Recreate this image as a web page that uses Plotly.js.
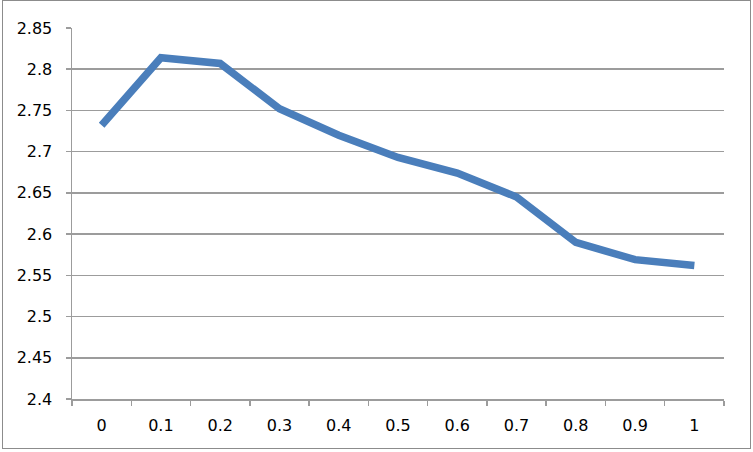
<!DOCTYPE html>
<html>
<head>
<meta charset="utf-8">
<script src="https://cdn.plot.ly/plotly-3.0.1.min.js"></script>
<style>
  html, body { margin: 0; padding: 0; background: #fff; }
  #wrap { position: relative; width: 753px; height: 452px; }
  #chart { position: absolute; left: 0; top: 0; width: 753px; height: 452px; }
  #frame { position: absolute; left: 2px; top: 0px; width: 749px; height: 449px;
           border: 1px solid #8c8c8c; pointer-events: none; box-sizing: border-box; }
</style>
</head>
<body>
<div id="wrap">
  <div id="chart"></div>
  <div id="frame"></div>
</div>
<script>
const categories = ["0", "0.1", "0.2", "0.3", "0.4", "0.5", "0.6", "0.7", "0.8", "0.9", "1"];
const values = [2.732, 2.814, 2.807, 2.752, 2.720, 2.693, 2.674, 2.645, 2.590, 2.569, 2.562];
const yTicks = [2.4, 2.45, 2.5, 2.55, 2.6, 2.65, 2.7, 2.75, 2.8, 2.85];
const yTickText = ["2.4", "2.45", "2.5", "2.55", "2.6", "2.65", "2.7", "2.75", "2.8", "2.85"];

const trace = {
  x: categories,
  y: values,
  type: "scatter",
  mode: "lines",
  line: { color: "#4a7ebb", width: 7.5, shape: "linear" },
  hoverinfo: "skip"
};

const axisColor = "#9c9c9c";
const layout = {
  width: 753,
  height: 452,
  margin: { l: 72, r: 29, t: 27.5, b: 53.3, pad: 0 },
  paper_bgcolor: "rgba(0,0,0,0)",
  plot_bgcolor: "#fff",
  showlegend: false,
  font: { family: "DejaVu Sans, Liberation Sans, Arial, sans-serif", size: 16, color: "#000" },
  xaxis: {
    type: "category",
    range: [-0.5, 10.5],
    showgrid: false,
    zeroline: false,
    showline: true,
    linecolor: axisColor,
    linewidth: 1.5,
    ticks: "outside",
    tickson: "boundaries",
    ticklen: 5,
    tickwidth: 1.5,
    tickcolor: axisColor,
    ticklabelstandoff: 11,
    tickfont: { size: 16, color: "#000" }
  },
  yaxis: {
    range: [2.4, 2.85],
    tickmode: "array",
    tickvals: yTicks,
    ticktext: yTickText,
    showgrid: true,
    gridcolor: axisColor,
    gridwidth: 1.5,
    zeroline: false,
    showline: true,
    linecolor: axisColor,
    linewidth: 1.5,
    ticks: "outside",
    ticklen: 5,
    tickwidth: 1.5,
    tickcolor: axisColor,
    ticklabelstandoff: 10,
    tickfont: { size: 16, color: "#000" }
  }
};

Plotly.newPlot("chart", [trace], layout, { displayModeBar: false, staticPlot: true });
</script>
</body>
</html>
